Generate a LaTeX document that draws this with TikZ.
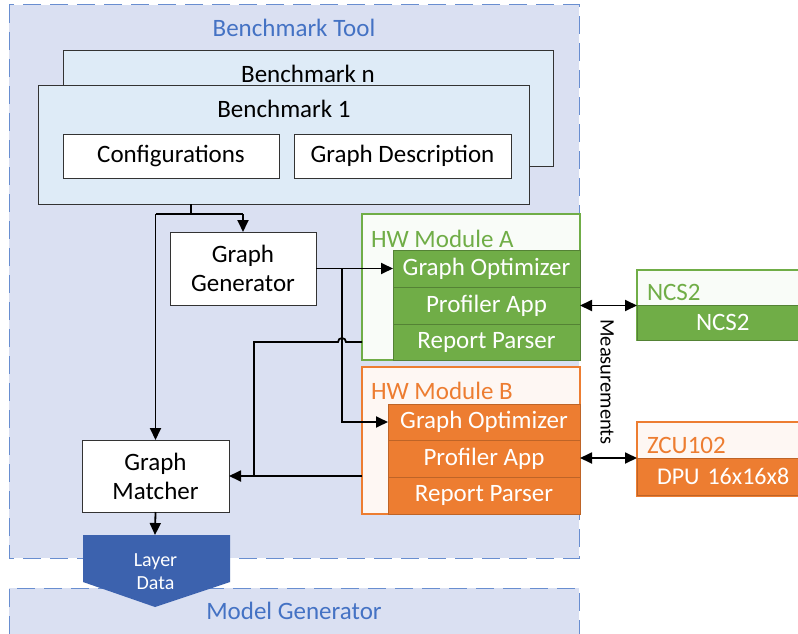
\documentclass[tikz,border=0pt]{standalone}
\usepackage{fontspec}
\setmainfont{Carlito}
\usetikzlibrary{arrows.meta,calc}
\definecolor{bgblue}{HTML}{DAE0F2}
\definecolor{bmfill}{HTML}{DEEBF7}
\definecolor{tblue}{HTML}{4472C4}
\definecolor{hwgreen}{HTML}{70AD47}
\definecolor{hworange}{HTML}{ED7D31}
\definecolor{dpu}{HTML}{3C62AE}
\begin{document}
\begin{tikzpicture}[x=1pt,y=-1pt,
  every node/.style={inner sep=0pt,outer sep=0pt},
  txt/.style={font=\fontsize{25}{29}\selectfont},
  dashbox/.style={draw=tblue!80,line width=1pt,dash pattern=on 18pt off 9pt},
  bmbox/.style={draw=black!80,fill=bmfill,line width=0.9pt,rectangle},
  wbox/.style={draw=black!80,fill=white,line width=0.9pt,rectangle,align=center,txt},
  gband/.style={draw=hwgreen!75!black,fill=hwgreen,line width=0.6pt,rectangle,text=white,txt},
  oband/.style={draw=hworange!80!black,fill=hworange,line width=0.6pt,rectangle,text=white,txt},
  conn/.style={line width=1.8pt,black},
  arr/.style={conn,-{Triangle[length=12pt,width=11pt]}},
  darr/.style={conn,{Triangle[length=12pt,width=11pt]}-{Triangle[length=12pt,width=11pt]}}]
\useasboundingbox (0,0) rectangle (798,634);
\fill[white] (0,0) rectangle (798,634);
% Benchmark Tool container
\fill[bgblue] (9,5) rectangle (579,558);
\draw[dashbox] (9,5) rectangle (579,558);
\node[txt,text=tblue] (bttitle) at (294,28) {Benchmark Tool};
% Model Generator container
\fill[bgblue] (9,588) rectangle (579,634);
\draw[dashbox] (9,634) -- (9,588) -- (579,588) -- (579,634);
\node[txt,text=tblue] (mgtitle) at (294,611) {Model Generator};
% Benchmarks
\node[bmbox,minimum width=490pt,minimum height=116pt] (bmn) at (308,108) {};
\node[txt] (bmnt) at (308,74) {Benchmark n};
\node[bmbox,minimum width=491pt,minimum height=119pt] (bm1) at (283.5,144.5) {};
\node[txt] (bm1t) at (284,109) {Benchmark 1};
\node[wbox,minimum width=216pt,minimum height=44pt] (conf) at (171,156) {Configurations};
\node[wbox,minimum width=217pt,minimum height=44pt] (gdesc) at (402.5,156) {Graph Description};
% Graph generator / matcher
\node[wbox,minimum width=146pt,minimum height=73pt] (gg) at (243,268.5) {Graph\\Generator};
\node[wbox,minimum width=147pt,minimum height=72pt] (gm) at (155.5,476) {Graph\\Matcher};
% HW Module A
\node[draw=hwgreen,fill=white!96!hwgreen,line width=1.1pt,rectangle,minimum width=218pt,minimum height=146pt] (hwA) at (471,287) {};
\node[txt,text=hwgreen,anchor=west] (hwAt) at (371,239) {HW Module A};
\node[gband,minimum width=187pt,minimum height=37pt] (goA) at (486.5,268.5) {Graph Optimizer};
\node[gband,minimum width=187pt,minimum height=37pt] (paA) at (486.5,305.5) {Profiler App};
\node[gband,minimum width=187pt,minimum height=36pt] (rpA) at (486.5,342) {Report Parser};
% HW Module B
\node[draw=hworange,fill=white!94!hworange,line width=1.1pt,rectangle,minimum width=218pt,minimum height=147pt] (hwB) at (471,440.5) {};
\node[txt,text=hworange,anchor=west] (hwBt) at (371,391) {HW Module B};
\node[oband,minimum width=192pt,minimum height=36pt] (goB) at (484,422) {Graph Optimizer};
\node[oband,minimum width=192pt,minimum height=37pt] (paB) at (484,458.5) {Profiler App};
\node[oband,minimum width=192pt,minimum height=37pt] (rpB) at (484,495.5) {Report Parser};
% NCS2
\fill[white!96!hwgreen] (637,270) rectangle (798,305);
\draw[hwgreen,line width=1.1pt] (798,270) -- (637,270) -- (637,340) -- (798,340);
\node[txt,text=hwgreen,anchor=west] (ncst) at (647,292) {NCS2};
\node[gband,anchor=north west,minimum width=162pt,minimum height=35pt,text width=162pt,align=left] (ncs) at (637,305) {\hspace*{59pt}NCS2};
% ZCU102
\fill[white!94!hworange] (637,422) rectangle (798,458);
\draw[hworange,line width=1.1pt] (798,422) -- (637,422) -- (637,496) -- (798,496);
\node[txt,text=hworange,anchor=west] (zcut) at (647,445) {ZCU102};
\node[oband,anchor=north west,minimum width=162pt,minimum height=37pt,text width=162pt,align=left,font=\fontsize{24}{28}\selectfont] (zcu) at (637,458) {\hspace*{20pt}DPU 16x16x8};
% Layer Data
\coordinate (ldtop) at (155,535);
\fill[dpu] (83,535) -- (230,535) -- (230,582) -- (155,607) -- (83,582) -- cycle;
\node[align=center,text=white,font=\fontsize{20}{23}\selectfont] (ld) at (155.5,572) {Layer\\Data};
% Connectors
\coordinate (t0) at (191,214);
\draw[conn] (t0 |- bm1.south) -- (t0);
\draw[conn] (gm.north |- t0) -- (gg.north |- t0);
\draw[arr] (gg.north |- t0) -- (gg.north);
\draw[arr] (gm.north |- t0) -- (gm.north);
\draw[arr] (gg.east) -- (goA.west);
\coordinate (j1) at (342,268.5);
\draw[arr] (j1) |- (goB.west);
\coordinate (rt) at (254,342);
\draw[conn] (hwA.west |- rpA.west) -- (346,342) arc[start angle=0,end angle=-180,radius=4] -- (rt) -- (rt |- gm.east);
\draw[arr] (hwB.west |- gm.east) -- (gm.east);
\draw[arr] (gm.south) -- (ldtop);
\draw[darr] (paA.east) -- (paA.east -| ncs.west);
\draw[darr] (zcu.north west -| paB.east) -- (zcu.north west);
\node[rotate=-90,font=\fontsize{20.5}{23}\selectfont] (meas) at (607,382) {Measurements};
\end{tikzpicture}
\end{document}
